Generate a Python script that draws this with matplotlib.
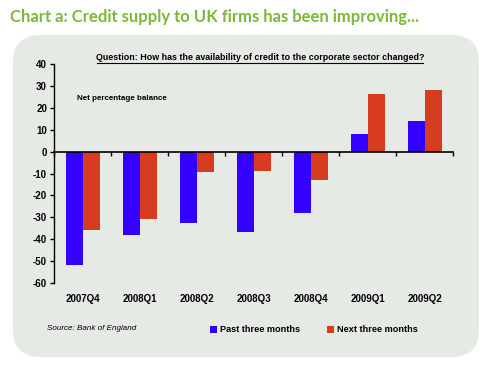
import numpy as np
import matplotlib
matplotlib.use("Agg")
import matplotlib.pyplot as plt
from matplotlib.patches import FancyBboxPatch, Rectangle
from matplotlib.lines import Line2D
import matplotlib.transforms as mtransforms

plt.rcParams["font.family"] = ["Liberation Sans", "DejaVu Sans"]

# data
quarters = ["2007Q4", "2008Q1", "2008Q2", "2008Q3", "2008Q4", "2009Q1", "2009Q2"]
past_three = [-52, -38, -32.5, -36.5, -28, 8, 14]
next_three = [-36, -31, -9.5, -9, -13, 26.5, 28]

blue = "#3300ff"
red = "#d83c20"
green = "#7cb83c"
panel = "#e6eae5"

W, H = 495, 368
fig = plt.figure(figsize=(W / 100, H / 100), dpi=100)
fig.patch.set_facecolor("white")

# rounded grey panel behind the chart
box = FancyBboxPatch((13 / W, 1 - 357 / H), (479 - 13) / W, (357 - 35) / H,
                     boxstyle="round,pad=0,rounding_size=0.055",
                     mutation_aspect=W / H, transform=fig.transFigure,
                     facecolor=panel, edgecolor="none", zorder=-5)
fig.patches.append(box)

fig.text(10 / W, 1 - 17 / H, "Chart a: Credit supply to UK firms has been improving...",
         color=green, fontsize=12, family="Lato", fontweight="bold",
         ha="left", va="center")

ax = fig.add_axes([54 / W, 1 - 283 / H, (453 - 54) / W, (283 - 64) / H])
ax.set_facecolor("none")

x = np.arange(len(quarters))
w = 0.3
ax.bar(x - w / 2 + 0.01, past_three, w, color=blue, zorder=2)
ax.bar(x + w / 2 + 0.01, next_three, w, color=red, zorder=2)

ax.set_xlim(-0.5, len(quarters) - 0.5)
ax.set_ylim(-60, 40)
ax.set_yticks(np.arange(-60, 41, 10))
ax.set_yticklabels([str(v) for v in range(-60, 41, 10)], fontsize=7, fontweight="bold")
ax.tick_params(axis="y", direction="out", length=3, width=1, pad=2)

for s in ["top", "right"]:
    ax.spines[s].set_visible(False)
ax.spines["bottom"].set_position(("data", 0))
ax.spines["left"].set_linewidth(1)
ax.spines["bottom"].set_linewidth(1.2)

ax.set_xticks(np.arange(len(quarters) + 1) - 0.5)
ax.set_xticklabels([])
ax.tick_params(axis="x", direction="out", length=3, width=1)

trans = mtransforms.blended_transform_factory(ax.transData, ax.transAxes)
for i, q in enumerate(quarters):
    ax.text(i, -0.075, q, transform=trans, ha="center", va="center",
            fontsize=7, fontweight="bold")

fig.text(260 / W, 1 - 58 / H,
         "Question: How has the availability of credit to the corporate sector changed?",
         fontsize=6.4, fontweight="bold", ha="center", va="center")
fig.lines.append(Line2D([97 / W, 423 / W], [1 - 63 / H, 1 - 63 / H],
                        transform=fig.transFigure, color="black", linewidth=0.8))

fig.text(77 / W, 1 - 99 / H, "Net percentage balance",
         fontsize=5.8, fontweight="bold", ha="left", va="center")

fig.text(47 / W, 1 - 329 / H, "Source: Bank of England",
         fontsize=5.8, style="italic", ha="left", va="center")

# legend squares
for xs, col, lab in [(210, blue, "Past three months"), (327, red, "Next three months")]:
    fig.patches.append(Rectangle((xs / W, 1 - 333 / H), 7 / W, 7 / H,
                                 transform=fig.transFigure, facecolor=col,
                                 edgecolor="none"))
    fig.text((xs + 10) / W, 1 - 329 / H, lab, fontsize=6.6, fontweight="bold",
             ha="left", va="center")

fig.savefig("out.png", dpi=100)
